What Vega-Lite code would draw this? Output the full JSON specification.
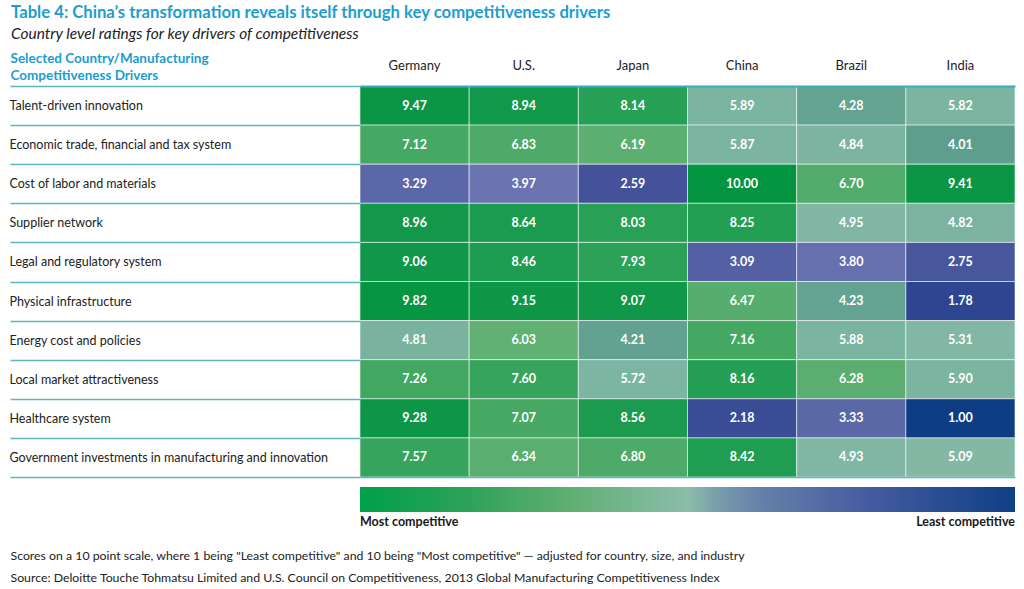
{
  "$schema": "https://vega.github.io/schema/vega-lite/v6.json",
  "autosize": {"type": "none"},
  "width": 655,
  "height": 391,
  "padding": {"left": 360, "top": 86, "right": 9, "bottom": 112},
  "background": "white",
  "config": {"view": {"stroke": null}, "font": "Lato"},
  "title": {
    "text": "Table 4: China’s transformation reveals itself through key competitiveness drivers",
    "subtitle": "Country level ratings for key drivers of competitiveness",
    "anchor": "start",
    "frame": "group",
    "dx": -349,
    "font": "Lato",
    "fontSize": 16.7,
    "fontWeight": "bold",
    "color": "#1b9dd0",
    "subtitleFont": "Lato",
    "subtitleFontSize": 15.5,
    "subtitleFontStyle": "italic",
    "subtitleColor": "#222222",
    "subtitlePadding": 5,
    "offset": 9
  },
  "data": {
    "values": [
      {"driver": "Talent-driven innovation", "country": "Germany", "score": 9.47},
      {"driver": "Talent-driven innovation", "country": "U.S.", "score": 8.94},
      {"driver": "Talent-driven innovation", "country": "Japan", "score": 8.14},
      {"driver": "Talent-driven innovation", "country": "China", "score": 5.89},
      {"driver": "Talent-driven innovation", "country": "Brazil", "score": 4.28},
      {"driver": "Talent-driven innovation", "country": "India", "score": 5.82},
      {"driver": "Economic trade, financial and tax system", "country": "Germany", "score": 7.12},
      {"driver": "Economic trade, financial and tax system", "country": "U.S.", "score": 6.83},
      {"driver": "Economic trade, financial and tax system", "country": "Japan", "score": 6.19},
      {"driver": "Economic trade, financial and tax system", "country": "China", "score": 5.87},
      {"driver": "Economic trade, financial and tax system", "country": "Brazil", "score": 4.84},
      {"driver": "Economic trade, financial and tax system", "country": "India", "score": 4.01},
      {"driver": "Cost of labor and materials", "country": "Germany", "score": 3.29},
      {"driver": "Cost of labor and materials", "country": "U.S.", "score": 3.97},
      {"driver": "Cost of labor and materials", "country": "Japan", "score": 2.59},
      {"driver": "Cost of labor and materials", "country": "China", "score": 10.00},
      {"driver": "Cost of labor and materials", "country": "Brazil", "score": 6.70},
      {"driver": "Cost of labor and materials", "country": "India", "score": 9.41},
      {"driver": "Supplier network", "country": "Germany", "score": 8.96},
      {"driver": "Supplier network", "country": "U.S.", "score": 8.64},
      {"driver": "Supplier network", "country": "Japan", "score": 8.03},
      {"driver": "Supplier network", "country": "China", "score": 8.25},
      {"driver": "Supplier network", "country": "Brazil", "score": 4.95},
      {"driver": "Supplier network", "country": "India", "score": 4.82},
      {"driver": "Legal and regulatory system", "country": "Germany", "score": 9.06},
      {"driver": "Legal and regulatory system", "country": "U.S.", "score": 8.46},
      {"driver": "Legal and regulatory system", "country": "Japan", "score": 7.93},
      {"driver": "Legal and regulatory system", "country": "China", "score": 3.09},
      {"driver": "Legal and regulatory system", "country": "Brazil", "score": 3.80},
      {"driver": "Legal and regulatory system", "country": "India", "score": 2.75},
      {"driver": "Physical infrastructure", "country": "Germany", "score": 9.82},
      {"driver": "Physical infrastructure", "country": "U.S.", "score": 9.15},
      {"driver": "Physical infrastructure", "country": "Japan", "score": 9.07},
      {"driver": "Physical infrastructure", "country": "China", "score": 6.47},
      {"driver": "Physical infrastructure", "country": "Brazil", "score": 4.23},
      {"driver": "Physical infrastructure", "country": "India", "score": 1.78},
      {"driver": "Energy cost and policies", "country": "Germany", "score": 4.81},
      {"driver": "Energy cost and policies", "country": "U.S.", "score": 6.03},
      {"driver": "Energy cost and policies", "country": "Japan", "score": 4.21},
      {"driver": "Energy cost and policies", "country": "China", "score": 7.16},
      {"driver": "Energy cost and policies", "country": "Brazil", "score": 5.88},
      {"driver": "Energy cost and policies", "country": "India", "score": 5.31},
      {"driver": "Local market attractiveness", "country": "Germany", "score": 7.26},
      {"driver": "Local market attractiveness", "country": "U.S.", "score": 7.60},
      {"driver": "Local market attractiveness", "country": "Japan", "score": 5.72},
      {"driver": "Local market attractiveness", "country": "China", "score": 8.16},
      {"driver": "Local market attractiveness", "country": "Brazil", "score": 6.28},
      {"driver": "Local market attractiveness", "country": "India", "score": 5.90},
      {"driver": "Healthcare system", "country": "Germany", "score": 9.28},
      {"driver": "Healthcare system", "country": "U.S.", "score": 7.07},
      {"driver": "Healthcare system", "country": "Japan", "score": 8.56},
      {"driver": "Healthcare system", "country": "China", "score": 2.18},
      {"driver": "Healthcare system", "country": "Brazil", "score": 3.33},
      {"driver": "Healthcare system", "country": "India", "score": 1.00},
      {"driver": "Government investments in manufacturing and innovation", "country": "Germany", "score": 7.57},
      {"driver": "Government investments in manufacturing and innovation", "country": "U.S.", "score": 6.34},
      {"driver": "Government investments in manufacturing and innovation", "country": "Japan", "score": 6.80},
      {"driver": "Government investments in manufacturing and innovation", "country": "China", "score": 8.42},
      {"driver": "Government investments in manufacturing and innovation", "country": "Brazil", "score": 4.93},
      {"driver": "Government investments in manufacturing and innovation", "country": "India", "score": 5.09}
    ]
  },
  "encoding": {
    "y": {
      "field": "driver",
      "type": "nominal",
      "sort": null,
      "scale": {"paddingInner": 0, "paddingOuter": 0},
      "axis": {
        "orient": "left",
        "title": ["Selected Country/Manufacturing", "Competitiveness Drivers"],
        "titleAngle": 0,
        "titleAlign": "left",
        "titleBaseline": "top",
        "titleX": -350,
        "titleY": -35,
        "titleFont": "Lato",
        "titleFontSize": 13.5,
        "titleFontWeight": "bold",
        "titleColor": "#1b9dd0",
        "titleLineHeight": 17,
        "domain": false,
        "ticks": true,
        "tickBand": "extent",
        "tickSize": 350,
        "tickColor": "#5db6c4",
        "tickWidth": 1.5,
        "labelAlign": "left",
        "labelBaseline": "middle",
        "labelPadding": 1,
        "labelFont": "Lato",
        "labelFontSize": 12.5,
        "labelColor": "#222222",
        "labelLimit": 400
      }
    }
  },
  "layer": [
    {
      "mark": {"type": "rect", "fillOpacity": 0, "strokeWidth": 0},
      "encoding": {
        "x": {
          "field": "country",
          "type": "nominal",
          "sort": ["Germany", "U.S.", "Japan", "China", "Brazil", "India"],
          "axis": {
            "orient": "bottom",
            "labels": false,
            "ticks": false,
            "domain": true,
            "domainColor": "#5db6c4",
            "domainWidth": 1.5,
            "title": null
          }
        },
        "stroke": {
          "field": "score",
          "type": "quantitative",
          "scale": {
            "domain": [10, 8.6, 7.3, 5.5, 4.8, 3.2, 1],
            "range": ["#00a04a", "#2aa158", "#5aad6c", "#8bbdaa", "#6b89aa", "#4a5ea2", "#0e3f85"],
            "interpolate": "rgb"
          },
          "legend": {
            "orient": "none",
            "direction": "horizontal",
            "legendX": 0,
            "legendY": 401,
            "gradientLength": 655,
            "gradientThickness": 25,
            "gradientStrokeWidth": 0,
            "title": null,
            "values": [10, 1],
            "labelExpr": "datum.value == 10 ? 'Most competitive' : 'Least competitive'",
            "labelFont": "Lato",
            "labelFontSize": 12.5,
            "labelFontWeight": "bold",
            "labelColor": "#1a1a1a",
            "labelOffset": 4,
            "labelOverlap": false
          }
        }
      }
    },
    {
      "mark": {"type": "rect", "stroke": "white", "strokeOpacity": 0.55, "strokeWidth": 1},
      "encoding": {
        "x": {
          "field": "country",
          "type": "nominal",
          "sort": ["Germany", "U.S.", "Japan", "China", "Brazil", "India"],
          "scale": {"paddingInner": 0, "paddingOuter": 0},
          "axis": {
            "orient": "top",
            "labelAngle": 0,
            "ticks": false,
            "domain": true,
            "domainColor": "#3aaabd",
            "domainWidth": 2,
            "labelPadding": 14,
            "labelFont": "Lato",
            "labelFontSize": 13,
            "labelColor": "#222222",
            "title": [
              "Scores on a 10 point scale, where 1 being \"Least competitive\" and 10 being \"Most competitive\" — adjusted for country, size, and industry",
              "Source: Deloitte Touche Tohmatsu Limited and U.S. Council on Competitiveness, 2013 Global Manufacturing Competitiveness Index"
            ],
            "titleX": -350,
            "titleY": 463,
            "titleAlign": "left",
            "titleAnchor": "start",
            "titleBaseline": "top",
            "titleFont": "Lato",
            "titleFontSize": 12.3,
            "titleFontWeight": "normal",
            "titleColor": "#222222",
            "titleLineHeight": 22,
            "titleLimit": 1000
          }
        },
        "fill": {
          "field": "score",
          "type": "quantitative",
          "scale": {
            "domain": [1, 1.8, 2.6, 3.3, 3.99, 4.0, 4.5, 5.0, 5.95, 6.0, 7.0, 8.0, 9.0, 10],
            "range": ["#0e3d84", "#2f4692", "#435299", "#5a67a8", "#6b73b0", "#5e9e8d", "#6aa795", "#84b8a6", "#7ab4a0", "#62b074", "#49a965", "#29a157", "#11974a", "#03943f"],
            "interpolate": "rgb"
          },
          "legend": null
        }
      }
    },
    {
      "mark": {"type": "text", "color": "white", "fontWeight": "bold", "fontSize": 12.5, "font": "Lato"},
      "encoding": {
        "x": {
          "field": "country",
          "type": "nominal",
          "sort": ["Germany", "U.S.", "Japan", "China", "Brazil", "India"],
          "axis": null
        },
        "text": {"field": "score", "type": "quantitative", "format": ".2f"}
      }
    }
  ],
  "resolve": {"axis": {"x": "independent"}}
}
